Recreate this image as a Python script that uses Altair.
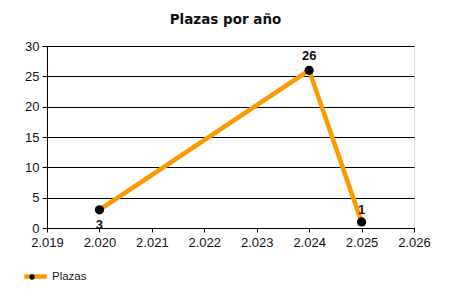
import altair as alt
import pandas as pd

years = [2020, 2024, 2025]
plazas = [3, 26, 1]
series = "Plazas"
title = "Plazas por año"

df = pd.DataFrame({"year": years, "plazas": plazas, "serie": [series] * 3,
                   "serie2": [series + " "] * 3})

ORANGE = "#FF9900"

x = alt.X("year:Q", scale=alt.Scale(domain=[2019, 2026], nice=False, zero=False),
          axis=alt.Axis(values=list(range(2019, 2027)), title=None, grid=False,
                        labelExpr="replace(format(datum.value, ',.0f'), ',', '.')",
                        domainColor="black", tickColor="black", tickSize=4,
                        labelFont="Liberation Sans", labelFontSize=13, labelColor="#111",
                        labelPadding=4, labelFlush=False))
y = alt.Y("plazas:Q", scale=alt.Scale(domain=[0, 30], nice=False),
          axis=alt.Axis(values=[0, 5, 10, 15, 20, 25, 30], title=None, grid=True,
                        gridColor="black", gridOpacity=1, domainColor="black",
                        tickColor="black", tickSize=5, labelFont="Liberation Sans",
                        labelFontSize=13, labelColor="#111", labelPadding=3))

base = alt.Chart(df)

line = base.mark_line(strokeWidth=4.5).encode(
    x=x, y=y,
    color=alt.Color("serie:N", scale=alt.Scale(domain=[series], range=[ORANGE]),
                    legend=alt.Legend(title=None, orient="none", legendX=-25, legendY=217,
                                      symbolType="stroke", symbolStrokeWidth=4.5,
                                      symbolSize=500, labelFont="Liberation Sans",
                                      labelFontSize=11.5, labelColor="#222",
                                      labelOffset=3)),
)
pts = base.mark_point(filled=True, size=85, opacity=1).encode(
    x=x, y=y,
    fill=alt.Fill("serie2:N", scale=alt.Scale(domain=[series + " "], range=["black"]),
                  legend=alt.Legend(title=None, orient="none", legendX=-20, legendY=226,
                                    symbolType="circle", symbolSize=28,
                                    symbolStrokeWidth=0, labelExpr="''",
                                    labelOffset=0, symbolOffset=0)),
)

def lab(cond, dy):
    return base.transform_filter(cond).mark_text(
        fontWeight="bold", fontSize=13, font="Liberation Sans", dy=dy, color="#111"
    ).encode(x=x, y=y, text="plazas:Q")

chart = alt.layer(
    line, pts,
    lab(alt.datum.year == 2020, 15),
    lab(alt.datum.year == 2024, -14),
    lab(alt.datum.year == 2025, -12),
).properties(
    width=367, height=182,
    title=alt.TitleParams(title, font="DejaVu Sans", fontSize=13.5, fontWeight="bold",
                          color="#111", offset=14, dx=-5),
    padding={"left": 47, "top": 46, "right": 36, "bottom": 72},
    autosize=alt.AutoSizeParams(type="none"),
).configure_view(stroke=None).configure(background="white")

chart.save("out.html", embed_options={"renderer": "svg", "actions": False})
